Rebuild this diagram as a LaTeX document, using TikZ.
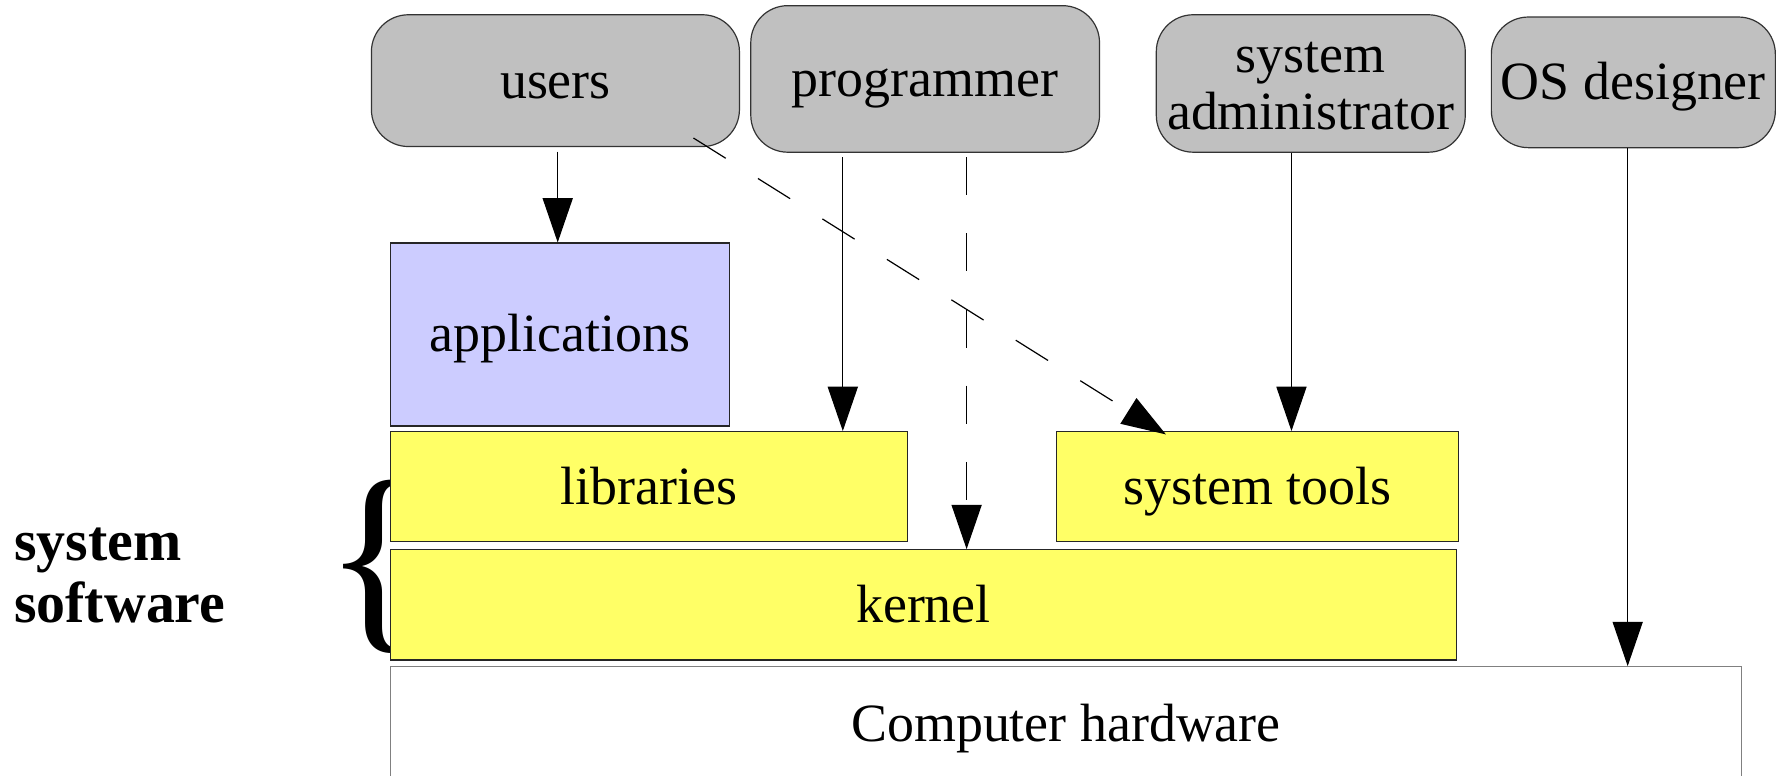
\documentclass[tikz,border=0pt]{standalone}
\usepackage{fontspec}
\setmainfont{Liberation Serif}
\usetikzlibrary{arrows.meta}
\definecolor{actorgray}{HTML}{C0C0C0}
\definecolor{appblue}{HTML}{CCCCFF}
\definecolor{sysyellow}{HTML}{FFFF66}
\definecolor{hwgray}{HTML}{808080}

\begin{document}
\begin{tikzpicture}[>={Triangle[length=0.78cm, width=0.53cm]}, line width=0.6pt,
  every node/.style={font=\fontsize{27}{29}\selectfont, inner sep=0pt},
  boxtext/.style={text height=22pt, text depth=4.5pt},
  actor/.style={boxtext, draw=black!80, fill=actorgray, rounded corners=0.65cm, align=center},
  layer/.style={boxtext, draw=black!85, fill=sysyellow},
  arr/.style={->, black},
  longdash/.style={dash pattern=on 0.67cm off 0.67cm}]
\useasboundingbox (0,0) rectangle (31.36,-13.66);
% brace behind the layers
\node[font=\fontsize{105}{105}\selectfont] (brace) at (6.60,-9.98) {\{};
\node[font=\fontsize{29}{31}\selectfont\bfseries, align=left, anchor=west] (syssw) at (0.24,-10.14) {system\\software};
% people
\node[actor, minimum width=6.48cm, minimum height=2.32cm] (users) at (9.78,-1.42) {users};
\node[actor, minimum width=6.14cm, minimum height=2.58cm] (programmer) at (16.29,-1.39) {programmer};
\node[actor, text height=51pt, minimum width=5.44cm, minimum height=2.42cm] (sysadmin) at (23.08,-1.47) {system\\administrator};
\node[actor, minimum width=5.00cm, minimum height=2.30cm] (designer) at (28.76,-1.45) {OS designer};
% software layers
\node[layer, fill=appblue, minimum width=5.96cm, minimum height=3.22cm] (applications) at (9.86,-5.89) {applications};
\node[layer, minimum width=9.10cm, minimum height=1.94cm] (libraries) at (11.43,-8.57) {libraries};
\node[layer, minimum width=7.08cm, minimum height=1.94cm] (tools) at (22.14,-8.57) {system tools};
\node[layer, minimum width=18.76cm, minimum height=1.94cm] (kernel) at (16.26,-10.65) {kernel};
\node[layer, draw=hwgray, fill=white, minimum width=23.78cm, minimum height=2.00cm] (hardware) at (18.77,-12.74) {Computer hardware};
% arrows
\coordinate (users out) at ([xshift=0.04cm, yshift=-0.08cm]users.south);
\draw[arr] (users out) -- (users out |- applications.north);
\coordinate (prog lib) at ([xshift=-1.45cm, yshift=-0.08cm]programmer.south);
\draw[arr] (prog lib) -- (prog lib |- libraries.north);
\coordinate (prog ker) at ([xshift=0.73cm, yshift=-0.08cm]programmer.south);
\draw[arr, longdash] (prog ker) -- (prog ker |- kernel.north);
\coordinate (admin out) at ([xshift=-0.34cm]sysadmin.south);
\draw[arr] (admin out) -- (admin out |- tools.north);
\coordinate (design out) at ([xshift=-0.10cm]designer.south);
\draw[arr] (design out) -- (design out |- hardware.north);
\coordinate (users tool) at ([xshift=-0.82cm, yshift=0.16cm]users.south east);
\draw[arr, longdash] (users tool) -- ([xshift=1.94cm, yshift=-0.06cm]tools.north west);
\end{tikzpicture}
\end{document}
